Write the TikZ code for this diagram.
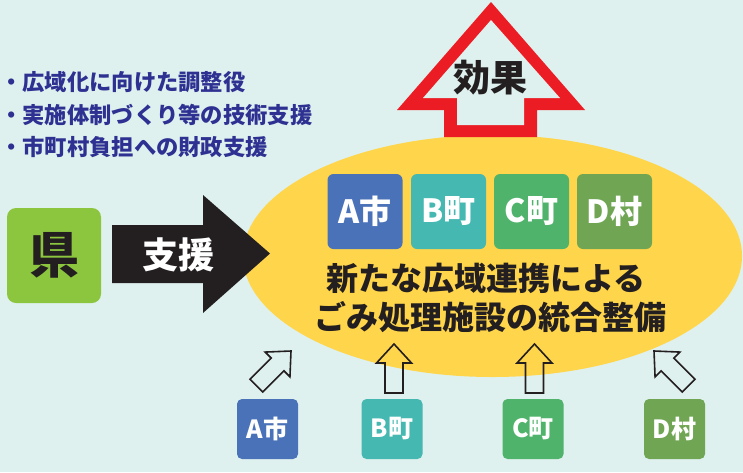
\documentclass[tikz,border=0pt]{standalone}
\usepackage{fontspec}
\setmainfont{Noto Sans CJK JP}
\usetikzlibrary{shapes.geometric}
\definecolor{bg}{HTML}{DFF1EE}
\definecolor{oval}{HTML}{FFD54C}
\definecolor{effred}{HTML}{EC1C24}
\definecolor{ink}{HTML}{231F20}
\definecolor{navy}{HTML}{2E3192}
\definecolor{kengreen}{HTML}{8CC63F}
\definecolor{cA}{HTML}{4A72B8}
\definecolor{cB}{HTML}{45B8B1}
\definecolor{cC}{HTML}{50B36B}
\definecolor{cD}{HTML}{70A653}
\newcommand{\fs}[1]{\fontsize{#1}{#1}\selectfont\bfseries}
\begin{document}
\begin{tikzpicture}[x=1pt,y=-1pt,
  bigbox/.style={rounded corners=6pt,minimum width=75pt,minimum height=75pt,inner sep=0pt,text=white,font=\fs{32}},
  smallbox/.style={rounded corners=5pt,minimum width=61pt,minimum height=60pt,inner sep=0pt,text=white,font=\fs{25}},
  bullet/.style={anchor=west,inner sep=0pt,text=navy,font=\fs{22.3}},
  hollow/.style={draw=ink,line width=1.6pt,line join=miter}]
\useasboundingbox (0,0) rectangle (743,472);
\fill[bg] (0,0) rectangle (743,472);

% oval
\node[ellipse,fill=oval,minimum width=499pt,minimum height=242pt,inner sep=0pt,outer sep=0pt] (oval) at (492.5,256) {};

% effect arrow
\fill[effred] (491,2) -- (585,110) -- (537,110) -- (537,137) -- (444,137) -- (444,110) -- (397,110) -- cycle;
\fill[bg] (491,20) -- (560,98) -- (524,98) -- (524,125) -- (457,125) -- (457,98) -- (423,98) -- cycle;
\node[text=ink,font=\fs{37},inner sep=0pt] (eff) at (490,78) {効果};

% bullets
\node[bullet] (b1) at (0,82) {・広域化に向けた調整役};
\node[bullet] (b2) at (0,114.5) {・実施体制づくり等の技術支援};
\node[bullet] (b3) at (0,147) {・市町村負担への財政支援};

% ken
\node[fill=kengreen,rounded corners=9pt,minimum width=94pt,minimum height=95pt,inner sep=0pt,text=ink,font=\fs{50}] (ken) at (54,255.5) {県};

% support arrow
\fill[ink] (112,225) -- (203,225) -- (203,195) -- (270,253.5) -- (203,313) -- (203,283) -- (112,283) -- cycle;
\node[text=white,font=\fs{36},inner sep=0pt] (shien) at (178,255) {支援};

% boxes in oval
\node[bigbox,fill=cA] (A1) at (365,211.5) {A市};
\node[bigbox,fill=cB] (B1) at (448.5,211.5) {B町};
\node[bigbox,fill=cC] (C1) at (531.5,211.5) {C町};
\node[bigbox,fill=cD] (D1) at (614.5,211.5) {D村};

\node[text=ink,font=\fs{32},inner sep=0pt] (l1) at (486,278) {新たな広域連携による};
\node[text=ink,font=\fs{32},inner sep=0pt] (l2) at (490,317) {ごみ処理施設の統合整備};

% bottom boxes
\node[smallbox,fill=cA] (A2) at (267.5,429) {A市};
\node[smallbox,fill=cB] (B2) at (392,429) {B町};
\node[smallbox,fill=cC] (C2) at (533,429) {C町};
\node[smallbox,fill=cD] (D2) at (674.5,429) {D村};

% hollow arrows
\foreach \px/\py/\ang in {291/351/-45, 394/344/0, 534.5/344/0, 654/351/45}{
  \draw[hollow,shift={(\px,\py)},rotate=\ang]
    (0,0) -- (17.5,19) -- (9,19) -- (9,49) -- (-9,49) -- (-9,19) -- (-17.5,19) -- cycle;
}
\end{tikzpicture}
\end{document}
